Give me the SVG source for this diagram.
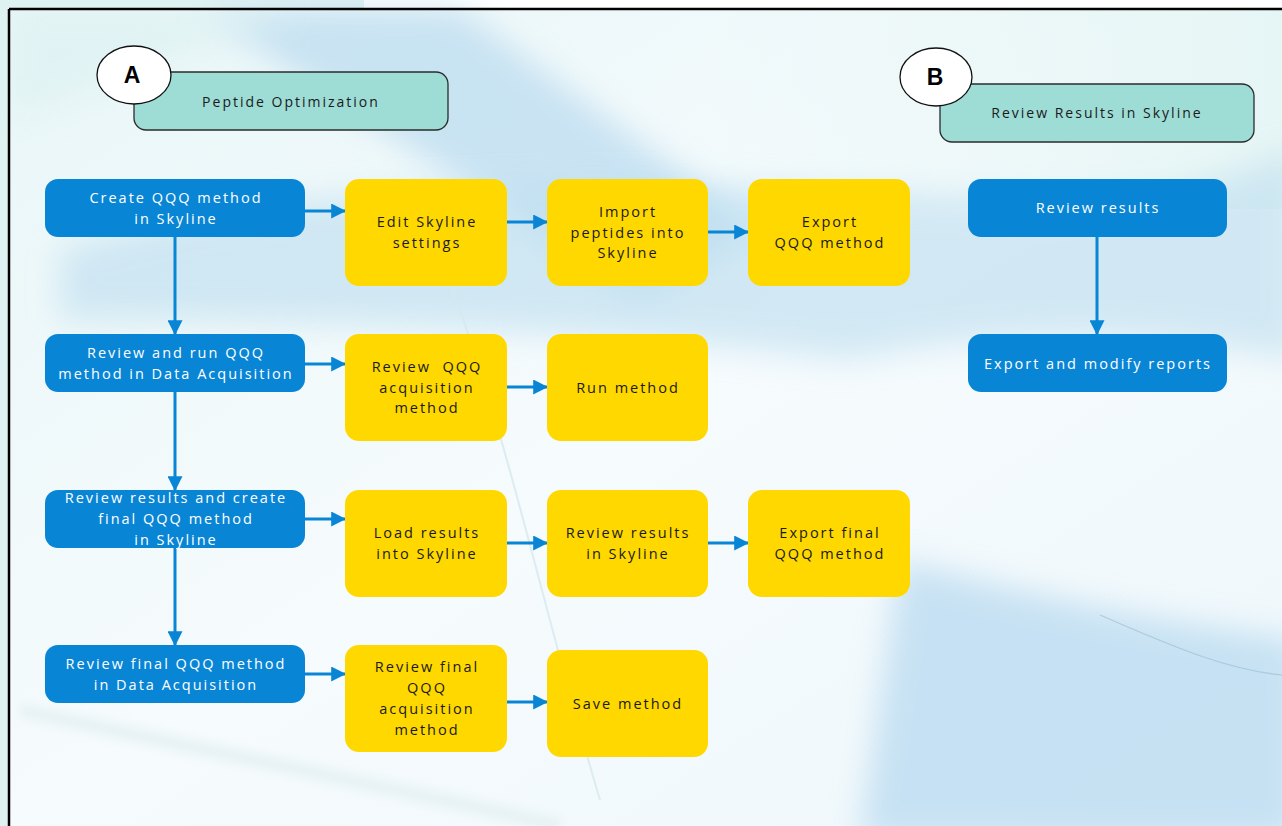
<svg xmlns="http://www.w3.org/2000/svg" width="1282" height="826" viewBox="0 0 1282 826">
<defs>
<style>
.blue{fill:#0985d6}
.yel{fill:#ffd800}
.hdr{fill:#9edcd6;stroke:#2b2b2b;stroke-width:1.3}
.circ{fill:#fff;stroke:#111;stroke-width:1.3}
.wt{font-family:"Open Sans","Liberation Sans",sans-serif;font-size:14.5px;letter-spacing:2px;fill:#fff;text-anchor:middle}
.bt{font-family:"Open Sans","Liberation Sans",sans-serif;font-size:14.5px;letter-spacing:2px;fill:#1a1a1a;text-anchor:middle}
.ht{font-family:"Open Sans","Liberation Sans",sans-serif;font-size:14px;letter-spacing:2px;fill:#1a1a1a;text-anchor:middle}
.lt{font-family:"Liberation Sans",Arial,sans-serif;font-size:23px;font-weight:bold;fill:#000;text-anchor:middle}
.con{stroke:#0985d6;stroke-width:3;fill:none;marker-end:url(#ah)}
</style>
<marker id="ah" markerWidth="5" markerHeight="5" refX="4.6" refY="2.5" orient="auto" markerUnits="strokeWidth">
<path d="M0,0 L5,2.5 L0,5 z" fill="#0985d6"/>
</marker>
<linearGradient id="bg" x1="0" y1="0" x2="1" y2="1">
<stop offset="0" stop-color="#e8f6f7"/>
<stop offset="0.5" stop-color="#f6fbfd"/>
<stop offset="1" stop-color="#eef7fb"/>
</linearGradient>
<linearGradient id="br" x1="0" y1="0" x2="1" y2="0">
<stop offset="0" stop-color="#c4e2f2" stop-opacity="0"/>
<stop offset="0.5" stop-color="#c4e2f2" stop-opacity="0.5"/>
<stop offset="1" stop-color="#bfdff2" stop-opacity="0.8"/>
</linearGradient>
<linearGradient id="tr" x1="0" y1="0" x2="1" y2="0">
<stop offset="0" stop-color="#e2f4f3" stop-opacity="0"/>
<stop offset="1" stop-color="#e2f4f3" stop-opacity="1"/>
</linearGradient>
<filter id="blur" x="-20%" y="-20%" width="140%" height="140%"><feGaussianBlur stdDeviation="16"/></filter>
<filter id="blur2" x="-20%" y="-50%" width="140%" height="200%"><feGaussianBlur stdDeviation="4"/></filter>
</defs>

<g id="background">
<rect x="0" y="0" width="1282" height="826" fill="#ffffff"/>
<rect x="0" y="0" width="364" height="10" fill="#dff2f2"/>
<rect x="0" y="0" width="9" height="826" fill="#dff2f2"/>
<rect x="9" y="9" width="1273" height="817" fill="url(#bg)"/>
<rect x="700" y="9" width="582" height="200" fill="url(#tr)" opacity="0.8"/>
<path d="M200,10 L460,10 L760,230 L640,300 Z" fill="#bcdcf0" opacity="0.75" filter="url(#blur)"/>
<path d="M60,250 C300,170 700,180 1000,200 C1150,215 1250,170 1300,150 L1300,360 C1150,330 1000,330 850,360 C600,330 300,320 60,320 Z" fill="#bfdff0" opacity="0.65" filter="url(#blur)"/>
<path d="M10,120 L300,10 L10,10 Z" fill="#dff2f3" opacity="0.8" filter="url(#blur)"/>
<path d="M900,560 C1050,600 1150,620 1300,640 L1300,840 L860,840 Z" fill="#bcdcf1" opacity="0.8" filter="url(#blur)"/>
<path d="M20,710 C250,760 450,800 560,826" stroke="#e8f3f5" stroke-width="16" fill="none" filter="url(#blur2)"/>
<path d="M440,260 C500,400 540,600 600,800" stroke="#d6e8ef" stroke-width="2" fill="none" opacity="0.8"/>
<path d="M1100,615 C1180,650 1230,670 1282,675" stroke="#9fbfd2" stroke-width="1.2" fill="none" opacity="0.7"/>
<path d="M9,9 L1282,9" stroke="#000" stroke-width="2.5"/>
<path d="M9,9 L9,826" stroke="#000" stroke-width="2.5"/>
</g>

<g id="header-A">
<rect class="hdr" x="134" y="72" width="314" height="58" rx="12"/>
<ellipse class="circ" cx="134" cy="75" rx="37" ry="29"/>
<text class="lt" x="132" y="83">A</text>
<text class="ht" x="291" y="107">Peptide Optimization</text>
</g>
<g id="header-B">
<rect class="hdr" x="940" y="84" width="314" height="58" rx="12"/>
<ellipse class="circ" cx="936" cy="77" rx="36" ry="29"/>
<text class="lt" x="935" y="85">B</text>
<text class="ht" x="1097" y="118">Review Results in Skyline</text>
</g>

<g id="connectors">
<path class="con" d="M305,211 H345"/>
<path class="con" d="M507,222 H547"/>
<path class="con" d="M708,232 H748"/>
<path class="con" d="M305,364 H345"/>
<path class="con" d="M507,387 H547"/>
<path class="con" d="M305,519 H345"/>
<path class="con" d="M507,543 H547"/>
<path class="con" d="M708,543 H748"/>
<path class="con" d="M305,674 H345"/>
<path class="con" d="M507,702 H547"/>
<path class="con" d="M175,237 V334"/>
<path class="con" d="M175,392 V490"/>
<path class="con" d="M175,548 V645"/>
<path class="con" d="M1097,237 V334"/>
</g>

<g id="n-create"><rect class="blue" x="45" y="179" width="260" height="58" rx="13"/>
<text class="wt" x="176" y="203">Create QQQ method</text><text class="wt" x="176" y="224">in Skyline</text></g>
<g id="n-reviewrun"><rect class="blue" x="45" y="334" width="260" height="58" rx="13"/>
<text class="wt" x="176" y="358">Review and run QQQ</text><text class="wt" x="176" y="379">method in Data Acquisition</text></g>
<g id="n-reviewcreate"><rect class="blue" x="45" y="490" width="260" height="58" rx="13"/>
<text class="wt" x="176" y="503">Review results and create</text><text class="wt" x="176" y="524">final QQQ method</text><text class="wt" x="176" y="545">in Skyline</text></g>
<g id="n-reviewfinal"><rect class="blue" x="45" y="645" width="260" height="58" rx="13"/>
<text class="wt" x="176" y="669">Review final QQQ method</text><text class="wt" x="176" y="690">in Data Acquisition</text></g>

<g id="n-edit"><rect class="yel" x="345" y="179" width="162" height="107" rx="14"/>
<text class="bt" x="427" y="227">Edit Skyline</text><text class="bt" x="427" y="248">settings</text></g>
<g id="n-import"><rect class="yel" x="547" y="179" width="161" height="107" rx="14"/>
<text class="bt" x="628" y="217">Import</text><text class="bt" x="628" y="238">peptides into</text><text class="bt" x="628" y="258">Skyline</text></g>
<g id="n-export"><rect class="yel" x="748" y="179" width="162" height="107" rx="14"/>
<text class="bt" x="830" y="227">Export</text><text class="bt" x="830" y="248">QQQ method</text></g>

<g id="n-reviewqqq"><rect class="yel" x="345" y="334" width="162" height="107" rx="14"/>
<text class="bt" x="427" y="372" xml:space="preserve">Review  QQQ</text><text class="bt" x="427" y="393">acquisition</text><text class="bt" x="427" y="413">method</text></g>
<g id="n-run"><rect class="yel" x="547" y="334" width="161" height="107" rx="14"/>
<text class="bt" x="628" y="393">Run method</text></g>

<g id="n-load"><rect class="yel" x="345" y="490" width="162" height="107" rx="14"/>
<text class="bt" x="427" y="538">Load results</text><text class="bt" x="427" y="559">into Skyline</text></g>
<g id="n-reviewres"><rect class="yel" x="547" y="490" width="161" height="107" rx="14"/>
<text class="bt" x="628" y="538">Review results</text><text class="bt" x="628" y="559">in Skyline</text></g>
<g id="n-exportfinal"><rect class="yel" x="748" y="490" width="162" height="107" rx="14"/>
<text class="bt" x="830" y="538">Export final</text><text class="bt" x="830" y="559">QQQ method</text></g>

<g id="n-reviewfinalqqq"><rect class="yel" x="345" y="645" width="162" height="107" rx="14"/>
<text class="bt" x="427" y="672">Review final</text><text class="bt" x="427" y="693">QQQ</text><text class="bt" x="427" y="714">acquisition</text><text class="bt" x="427" y="735">method</text></g>
<g id="n-save"><rect class="yel" x="547" y="650" width="161" height="107" rx="14"/>
<text class="bt" x="628" y="709">Save method</text></g>

<g id="n-B-review"><rect class="blue" x="968" y="179" width="259" height="58" rx="13"/>
<text class="wt" x="1098" y="213">Review results</text></g>
<g id="n-B-export"><rect class="blue" x="968" y="334" width="259" height="58" rx="13"/>
<text class="wt" x="1098" y="369">Export and modify reports</text></g>
</svg>
